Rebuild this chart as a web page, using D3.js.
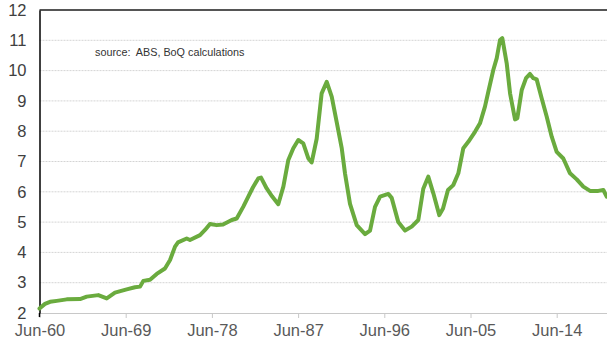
<!DOCTYPE html>
<html>
<head>
<meta charset="utf-8">
<script src="https://cdn.jsdelivr.net/npm/d3@7/dist/d3.min.js"></script>
<style>
  html, body { margin: 0; padding: 0; background: #fff; }
  svg { display: block; }
  text { font-family: "Liberation Sans", Arial, sans-serif; }
</style>
</head>
<body>
<svg id="chart" width="607" height="339"></svg>
<script>
// decimal years
const years = [1960.5, 1961.07, 1961.6, 1962.3, 1963.34, 1964.73, 1965.43, 1966.64, 1967.52, 1968.38,
  1969.6, 1970.47, 1971.0, 1971.34, 1972.04, 1972.74, 1973.6, 1974.13, 1974.65, 1974.96,
  1975.87, 1976.21, 1977.26, 1977.78, 1978.3, 1979.0, 1979.66, 1980.57, 1981.09, 1981.78,
  1982.3, 1982.79, 1983.34, 1983.63, 1984.22, 1984.78, 1985.43, 1985.96, 1986.48, 1987.0,
  1987.52, 1988.04, 1988.57, 1988.92, 1989.44, 1989.96, 1990.49, 1991.01, 1991.53, 1992.05,
  1992.4, 1992.92, 1993.62, 1994.49, 1995.01, 1995.53, 1996.06, 1996.92, 1997.27, 1997.96,
  1998.66, 1999.36, 2000.05, 2000.57, 2001.09, 2001.62, 2002.24, 2002.63, 2003.15, 2003.7,
  2004.23, 2004.75, 2005.27, 2005.97, 2006.49, 2007.01, 2007.36, 2007.88, 2008.24, 2008.58,
  2008.82, 2009.28, 2009.63, 2010.15, 2010.39, 2010.85, 2011.3, 2011.71, 2012.06, 2012.41,
  2012.93, 2013.46, 2013.98, 2014.5, 2015.19, 2015.89, 2016.59, 2017.28, 2017.98, 2018.84,
  2019.37, 2019.72];
const values = [2.15, 2.3, 2.37, 2.4, 2.45, 2.46, 2.54, 2.59, 2.48, 2.67,
  2.78, 2.85, 2.87, 3.06, 3.1, 3.29, 3.47, 3.75, 4.19, 4.33,
  4.46, 4.41, 4.57, 4.74, 4.94, 4.9, 4.92, 5.07, 5.12, 5.51,
  5.84, 6.15, 6.44, 6.47, 6.11, 5.85, 5.59, 6.17, 7.05, 7.44,
  7.71, 7.6, 7.1, 6.97, 7.75, 9.25, 9.63, 9.14, 8.3, 7.45,
  6.6, 5.6, 4.9, 4.6, 4.72, 5.5, 5.84, 5.93, 5.8, 5.0,
  4.72, 4.85, 5.07, 6.1, 6.5, 5.95, 5.23, 5.45, 6.06, 6.22,
  6.61, 7.44, 7.65, 7.98, 8.26, 8.81, 9.3, 10.02, 10.41, 11.01,
  11.07, 10.24, 9.25, 8.39, 8.43, 9.36, 9.75, 9.89, 9.75, 9.71,
  9.09, 8.48, 7.82, 7.32, 7.1, 6.61, 6.41, 6.17, 6.03, 6.03,
  6.06, 5.84];
const xTickYears = [1960.5, 1969.5, 1978.5, 1987.5, 1996.5, 2005.5, 2014.5];
const xTickLabels = ["Jun-60", "Jun-69", "Jun-78", "Jun-87", "Jun-96", "Jun-05", "Jun-14"];
const yTicks = [2, 3, 4, 5, 6, 7, 8, 9, 10, 11, 12];
const sourceNote = "source:  ABS, BoQ calculations";

(function () {
const svg = d3.select("#chart");
const mLeft = 39.5, mTop = 10, mBottom = 313;
const pxPerYear = (556.7 - 39.5) / 54;
const xEnd = 2021;
const x = d3.scaleLinear().domain([1960.5, xEnd]).range([mLeft, mLeft + (xEnd - 1960.5) * pxPerYear]);
const y = d3.scaleLinear().domain([2, 12]).range([mBottom, mTop]);

// gridlines
svg.append("g")
  .selectAll("line")
  .data(yTicks.filter(d => d > 2 && d < 12))
  .join("line")
  .attr("x1", mLeft).attr("x2", x.range()[1])
  .attr("y1", d => y(d)).attr("y2", d => y(d))
  .attr("stroke", "#d4d4d4").attr("stroke-width", 1)
  .attr("stroke-dasharray", "2,1");

// bottom axis
const xAxis = d3.axisBottom(x)
  .tickValues(xTickYears)
  .tickFormat((d, i) => xTickLabels[i])
  .tickSize(5)
  .tickSizeOuter(0);
const gx = svg.append("g").attr("transform", `translate(0,${mBottom})`).call(xAxis);
gx.select(".domain").attr("stroke", "#c8c8c8").attr("stroke-width", 1.2);
gx.selectAll(".tick line").attr("stroke", "#c8c8c8");
gx.selectAll(".tick text")
  .attr("fill", "#595959")
  .attr("font-size", "16.5px")
  .attr("font-family", "Liberation Sans, Arial, sans-serif")
  .attr("dy", null)
  .attr("y", 23);

// top border
svg.append("line")
  .attr("x1", mLeft).attr("x2", x.range()[1])
  .attr("y1", y(12)).attr("y2", y(12))
  .attr("stroke", "#555").attr("stroke-width", 2);

// left axis
const yAxis = d3.axisLeft(y).tickValues(yTicks).tickFormat(d3.format("d")).tickSize(0).tickPadding(13);
const gy = svg.append("g").attr("transform", `translate(${mLeft},0)`).call(yAxis);
gy.select(".domain").attr("stroke", "#000").attr("stroke-width", 1.5);
gy.selectAll(".tick text")
  .attr("fill", "#404040")
  .attr("font-size", "16.5px")
  .attr("font-family", "Liberation Sans, Arial, sans-serif");
svg.append("line").attr("x1", mLeft).attr("x2", mLeft).attr("y1", mBottom).attr("y2", mBottom + 4)
  .attr("stroke", "#000").attr("stroke-width", 1.5);

// source note
svg.append("text")
  .attr("x", 95).attr("y", 56)
  .attr("font-size", "10.8px")
  .attr("fill", "#333")
  .style("white-space", "pre")
  .attr("xml:space", "preserve")
  .text(sourceNote);

// line
const pts = years.map((yr, i) => [yr, values[i]]);
svg.append("path")
  .datum(pts)
  .attr("fill", "none")
  .attr("stroke", "#6aab3e")
  .attr("stroke-width", 4)
  .attr("stroke-linejoin", "round")
  .attr("stroke-linecap", "round")
  .attr("d", d3.line().x(d => x(d[0])).y(d => y(d[1])));
})();
</script>
</body>
</html>
